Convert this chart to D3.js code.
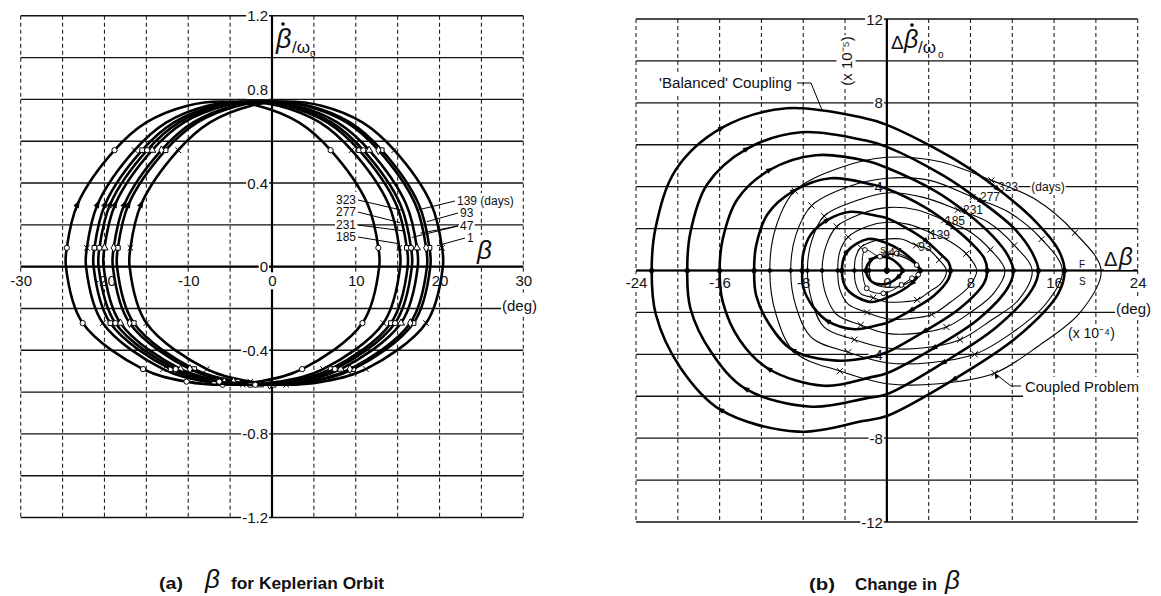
<!DOCTYPE html>
<html>
<head>
<meta charset="utf-8">
<script src="https://cdn.jsdelivr.net/npm/d3@7"></script>
<style>
  html, body { margin: 0; padding: 0; background: #fff; }
  svg { display: block; }
  text { font-family: "Liberation Sans", Arial, sans-serif; fill: #111; }
</style>
</head>
<body>
<svg id="fig" width="1161" height="596"></svg>
<script>
// ---------------- (a) β for Keplerian orbit ----------------
// β̇/ω₀ levels shared by every loop, and β read at each level for each day
const rateLevels = [0, 0.09, 0.30, 0.557, 0.69, 0.77, 0.79, 0.77, 0.69, 0.557, 0.30, 0.09, 0, -0.27, -0.49, -0.55, -0.565, -0.55, -0.49, -0.27];
const keplerDays = [1, 47, 93, 139, 185, 231, 277, 323];
const betaDay1   = [20.4, 20.3, 19.0, 14.6, 10.8, 5.9, 1.7, -2.5, -7.4, -11.2, -15.6, -16.9, -17.0, -15.0, -7.8, -2.6, 1.7, 6.0, 11.2, 18.4];
const betaDay47  = [18.9, 18.8, 17.5, 13.1, 9.3, 4.4, 0.2, -4.0, -8.9, -12.7, -17.1, -18.4, -18.5, -16.5, -9.3, -4.1, 0.2, 4.5, 9.7, 16.9];
const betaDay93  = [18.5, 18.4, 17.1, 12.7, 8.9, 4.0, -0.3, -4.5, -9.4, -13.2, -17.6, -18.9, -19.0, -17.0, -9.8, -4.6, -0.3, 4.1, 9.3, 16.5];
const betaDay139 = [17.4, 17.3, 16.0, 11.6, 7.8, 2.9, -1.4, -5.6, -10.5, -14.3, -18.7, -20.0, -20.1, -18.1, -10.9, -5.7, -1.4, 3.0, 8.2, 15.4];
const betaDay185 = [12.8, 12.7, 11.4, 7.0, 3.2, -1.7, -5.9, -10.1, -15.0, -18.8, -23.2, -24.5, -24.6, -22.6, -15.4, -10.2, -5.9, -1.6, 3.6, 10.8];
const betaDay231 = [15.3, 15.2, 13.9, 9.5, 5.7, 0.8, -3.5, -7.7, -12.6, -16.4, -20.8, -22.1, -22.2, -20.2, -13.0, -7.8, -3.5, 0.9, 6.1, 13.3];
const betaDay277 = [16.2, 16.1, 14.8, 10.4, 6.6, 1.7, -2.6, -6.8, -11.7, -15.5, -19.9, -21.2, -21.3, -19.3, -12.1, -6.9, -2.6, 1.8, 7.0, 14.2];
const betaDay323 = [16.7, 16.6, 15.3, 10.9, 7.1, 2.2, -2.0, -6.2, -11.1, -14.9, -19.3, -20.6, -20.7, -18.7, -11.5, -6.3, -2.0, 2.3, 7.5, 14.7];
const betaXTicks = [-30, -20, -10, 0, 10, 20, 30];
const rateYTicks = [1.2, 0.8, 0.4, 0, -0.4, -0.8, -1.2];
const rateYLabels = ["1.2", "0.8", "0.4", "0", "-0.4", "-0.8", "-1.2"];
// day callouts: label text and the (β, β̇/ω₀) point each leader runs to
const keplerCallLeft = ["323", "277", "231", "185"];
const keplerCallLeftTo = [[15.5, 0.27], [15.3, 0.21], [15.9, 0.17], [15.1, 0.11]];
const keplerCallRight = ["139 (days)", "93", "47", "47", "1"];
const keplerCallRightTo = [[17.3, 0.27], [18.5, 0.215], [17.7, 0.16], [16.7, 0.14], [19.7, 0.10]];

// ---------------- (b) change in β ----------------
const dBetaXTicks = [-24, -16, -8, 0, 8, 16, 24];
const dRateYTicks = [12, 8, 4, -4, -8, -12];
const couplingDays = [47, 93, 139, 185, 231, 277, 323];
// 'Balanced' coupling loops, [Δβ (x10^-4 deg), Δβ̇/ω₀ (x10^-5)]
const bal323 = [[-22.5,0],[-22.1,2.1],[-20.2,4.8],[-15.8,6.8],[-9.6,7.74],[-2.4,7.3],[0,6.95],[6.5,5.3],[10.6,3.9],[14.3,2.3],[16.4,1.0],[17.0,0],[16.4,-1.1],[12.4,-3.2],[6.4,-5.2],[0,-6.94],[-2.3,-7.18],[-8.5,-7.69],[-15.9,-6.65],[-19.8,-4.6],[-22.1,-2.1]];
const bal277 = [[-19.1,0],[-18.8,1.8],[-17.2,4.1],[-13.4,5.8],[-8.2,6.6],[-2.0,6.2],[0,5.9],[5.5,4.5],[9.0,3.3],[12.2,2.0],[13.9,0.85],[14.5,0],[13.9,-0.9],[10.5,-2.7],[5.4,-4.4],[0,-5.9],[-2.0,-6.1],[-7.2,-6.5],[-13.5,-5.65],[-16.8,-3.9],[-18.8,-1.8]];
const bal231 = [[-16.0,0],[-15.7,1.5],[-14.3,3.4],[-11.2,4.8],[-6.8,5.5],[-1.7,5.2],[0,4.9],[4.6,3.8],[7.5,2.8],[10.2,1.6],[11.6,0.7],[12.1,0],[11.6,-0.8],[8.8,-2.3],[4.5,-3.7],[0,-4.9],[-1.6,-5.1],[-6.0,-5.5],[-11.3,-4.7],[-14.1,-3.3],[-15.7,-1.5]];
const bal185 = [[-12.7,0],[-12.5,1.2],[-11.4,2.7],[-8.9,3.8],[-5.4,4.4],[-1.4,4.1],[0,3.9],[3.7,3.0],[6.0,2.2],[8.1,1.3],[9.3,0.6],[9.6,0],[9.3,-0.6],[7.0,-1.8],[3.6,-2.9],[0,-3.9],[-1.3,-4.1],[-4.8,-4.3],[-9.0,-3.8],[-11.2,-2.6],[-12.5,-1.2]];
const bal139 = [[-8.1,0],[-8.0,0.8],[-7.3,1.7],[-5.7,2.4],[-3.5,2.8],[-0.9,2.6],[0,2.5],[2.3,1.9],[3.8,1.4],[5.1,0.8],[5.9,0.4],[6.1,0],[5.9,-0.4],[4.5,-1.2],[2.3,-1.9],[0,-2.5],[-0.8,-2.6],[-3.1,-2.8],[-5.7,-2.4],[-7.1,-1.7],[-8.0,-0.8]];
const bal93  = [[-4.3,0],[-3.8,0.9],[-1.8,1.5],[0,1.3],[2.0,0.7],[3.2,0],[2.4,-0.6],[0,-1.3],[-1.6,-1.5],[-3.8,-0.9]];
const bal47  = [[-2.0,0],[-1.4,0.55],[0,0.63],[1.0,0.35],[1.5,0],[1.0,-0.35],[0,-0.63],[-1.4,-0.55]];
// coupled-problem loops
const cpl323 = [[-11.2,0],[-10.6,2.1],[-8.8,3.8],[-4.5,4.9],[0,5.4],[5,5.2],[10,4.3],[14.2,3.4],[18,1.8],[20.5,0],[18.5,-2.0],[14.5,-3.6],[10.3,-4.9],[5,-5.4],[0,-5.4],[-4.5,-4.8],[-8.8,-3.9],[-10.6,-2.1]];
const cpl277 = [[-9.2,0],[-8.7,1.7],[-7.2,3.1],[-3.7,4.0],[0,4.4],[4.1,4.3],[8.2,3.5],[11.6,2.8],[14.8,1.5],[16.8,0],[15.2,-1.6],[11.9,-3.0],[8.4,-4.0],[4.1,-4.4],[0,-4.4],[-3.7,-3.9],[-7.2,-3.2],[-8.7,-1.7]];
const cpl231 = [[-7.6,0],[-7.2,1.4],[-6.0,2.6],[-3.1,3.3],[0,3.7],[3.4,3.5],[6.8,2.9],[9.7,2.3],[12.2,1.2],[13.9,0],[12.6,-1.4],[9.9,-2.4],[7.0,-3.3],[3.4,-3.7],[0,-3.7],[-3.1,-3.3],[-6.0,-2.7],[-7.2,-1.4]];
const cpl185 = [[-6.2,0],[-5.8,1.2],[-4.8,2.1],[-2.5,2.7],[0,3.0],[2.8,2.9],[5.5,2.4],[7.8,1.9],[9.9,1.0],[11.3,0],[10.2,-1.1],[8.0,-2.0],[5.7,-2.7],[2.8,-3.0],[0,-3.0],[-2.5,-2.6],[-4.8,-2.1],[-5.8,-1.2]];
const cpl139 = [[-4.7,0],[-4.5,0.9],[-3.7,1.6],[-1.9,2.1],[0,2.3],[2.1,2.2],[4.2,1.8],[6.0,1.4],[7.6,0.8],[8.6,0],[7.8,-0.8],[6.1,-1.5],[4.3,-2.1],[2.1,-2.3],[0,-2.3],[-1.9,-2.0],[-3.7,-1.6],[-4.5,-0.9]];
const cpl93  = [[-3.1,0],[-3.0,0.6],[-2.5,1.1],[-1.3,1.4],[0,1.5],[1.4,1.5],[2.8,1.2],[4.0,1.0],[5.0,0.5],[5.7,0],[5.2,-0.6],[4.1,-1.0],[2.9,-1.4],[1.4,-1.5],[0,-1.5],[-1.3,-1.3],[-2.5,-1.1],[-3.0,-0.6]];
const cpl47  = [[-1.7,0],[-1.3,0.6],[0,0.8],[1.5,0.65],[2.7,0.3],[3.1,0],[2.8,-0.3],[1.5,-0.7],[0,-0.8],[-1.3,-0.6]];
// small tilted loop of open circles near the origin
const originLoop = [[-2.1,0.98],[-0.66,0.66],[0.94,0.82],[2.85,0.26],[3.0,-0.2],[2.4,-0.37],[1.4,-0.69],[-0.34,-1.09],[-1.93,-0.85]];
const couplingCallouts = ["323", "277", "231", "185", "139", "93", "47"];

// ---------------- drawing ----------------
const svg = d3.select("#fig");
const gridL = svg.append("g");
const bgL = svg.append("g");
const curveL = svg.append("g");
const textL = svg.append("g");

const xA = d3.scaleLinear().domain([-30, 30]).range([20.7, 523.3]);
const yA = d3.scaleLinear().domain([-1.2, 1.2]).range([517.5, 15.8]);
const xB = d3.scaleLinear().domain([-24, 24]).range([636, 1137.7]);
const yB = d3.scaleLinear().domain([-12, 12]).range([522, 19]);
const plainNum = d => String(d);

function drawGrid(x, y, xStep, yStep) {
  const [x0, x1] = x.domain(), [y0, y1] = y.domain();
  const vs = d3.range(x0, x1 + xStep / 2, xStep);
  const hs = d3.range(y0, y1 + yStep / 2, yStep);
  gridL.append("g").selectAll("line").data(vs).join("line")
    .attr("x1", d => x(d)).attr("x2", d => x(d)).attr("y1", y(y1)).attr("y2", y(y0))
    .attr("stroke", "#222").attr("stroke-width", 1.1).attr("stroke-dasharray", "4 3");
  gridL.append("g").selectAll("line").data(hs).join("line")
    .attr("x1", x(x0)).attr("x2", x(x1)).attr("y1", d => y(d)).attr("y2", d => y(d))
    .attr("stroke", "#111").attr("stroke-width", 1.4);
  gridL.append("line").attr("x1", x(0)).attr("x2", x(0)).attr("y1", y(y1)).attr("y2", y(y0))
    .attr("stroke", "#000").attr("stroke-width", 2.2);
  gridL.append("line").attr("x1", x(x0)).attr("x2", x(x1)).attr("y1", y(0)).attr("y2", y(0))
    .attr("stroke", "#000").attr("stroke-width", 2.2);
}

function whiteOut(node, pad) {
  const r = node.getBoundingClientRect();
  bgL.append("rect").attr("x", r.left - pad).attr("y", r.top - pad)
    .attr("width", r.width + 2 * pad).attr("height", r.height + 2 * pad).attr("fill", "#fff");
}

function txt(x, y, s, o = {}) {
  const t = textL.append("text").attr("x", x).attr("y", y).text(s)
    .attr("font-size", o.size || 14)
    .attr("text-anchor", o.anchor || "start")
    .attr("dominant-baseline", o.base || "central");
  if (o.weight) t.attr("font-weight", o.weight);
  if (o.italic) t.attr("font-style", "italic");
  if (o.len) t.attr("textLength", o.len).attr("lengthAdjust", "spacingAndGlyphs");
  if (o.rotate) t.attr("transform", `rotate(${o.rotate},${x},${y})`);
  if (o.bg !== undefined) whiteOut(t.node(), o.bg);
  return t;
}

const symTimes = d3.symbolTimes || d3.symbolX || d3.symbolCross;
const symbolTypes = { circle: d3.symbolCircle, square: d3.symbolSquare, diamond: d3.symbolDiamond, triangle: d3.symbolTriangle, times: symTimes };

function marker(g, px, py, type, size) {
  g.append("path").attr("d", d3.symbol().type(symbolTypes[type]).size(size)())
    .attr("transform", `translate(${px},${py})`)
    .attr("fill", type === "times" ? "none" : "#fff")
    .attr("stroke", "#000").attr("stroke-width", 1);
}

// filled arrowhead pointing along the loop between neighbours
function arrowHead(g, pts, i, reverse, size) {
  const n = pts.length;
  const a = pts[(i - 1 + n) % n], b = pts[(i + 1) % n];
  let ang = Math.atan2(b[1] - a[1], b[0] - a[0]) * 180 / Math.PI;
  if (reverse) ang += 180;
  const s = size;
  g.append("path").attr("d", `M${s},0L${-s * 0.7},${s * 0.6}L${-s * 0.7},${-s * 0.6}Z`)
    .attr("transform", `translate(${pts[i][0]},${pts[i][1]}) rotate(${ang})`)
    .attr("fill", "#000");
}

const loopLine = d3.line().curve(d3.curveCatmullRomClosed.alpha(0.5));

// ----- panel (a) -----
drawGrid(xA, yA, 5, 0.2);

const keplerBeta = [betaDay1, betaDay47, betaDay93, betaDay139, betaDay185, betaDay231, betaDay277, betaDay323];
const keplerMark = ["times", "square", "diamond", "triangle", "circle", "times", "square", "circle"];
const keplerMarkIdx = [1, 3, 9, 11, 13, 14, 15, 16, 18, 19];
keplerDays.forEach((day, k) => {
  const pts = keplerBeta[k].map((b, i) => [xA(b), yA(rateLevels[i])]);
  const g = curveL.append("g").attr("class", "day-" + day);
  g.append("path").attr("d", loopLine(pts)).attr("fill", "none")
    .attr("stroke", "#000").attr("stroke-width", 2.6);
  keplerMarkIdx.forEach(i => marker(g, pts[i][0], pts[i][1], keplerMark[k], 22));
  arrowHead(g, pts, 10, true, 5);
});

// tick labels
svg.append("g").attr("transform", `translate(0,${yA(0)})`)
  .call(d3.axisBottom(xA).tickValues(betaXTicks).tickSize(0).tickPadding(9).tickFormat(plainNum))
  .call(g => g.select(".domain").remove())
  .call(g => g.selectAll("text").attr("font-size", 15).attr("font-family", "Liberation Sans, Arial, sans-serif").attr("fill", "#111"))
  .call(g => g.selectAll("text").each(function () { whiteOut(this, 0); }));
rateYTicks.forEach((v, i) => {
  txt(xA(0) - 4, yA(v) + (v === 0.8 ? -10 : 0), rateYLabels[i], { anchor: "end", size: 15, bg: 1 });
});

// axis titles
txt(276, 48, "β", { size: 27, italic: true, base: "alphabetic" });
textL.append("circle").attr("cx", 283).attr("cy", 24).attr("r", 1.8).attr("fill", "#000");
txt(292, 53, "/ω", { size: 17, base: "alphabetic" });
txt(310, 57, "o", { size: 10, base: "alphabetic" });
txt(477, 259, "β", { size: 26, italic: true, base: "alphabetic", bg: 0 });
txt(502, 305, "(deg)", { size: 15, bg: 1 });

// day callouts
const leftY = [200, 212, 225, 237];
keplerCallLeft.forEach((s, i) => {
  txt(356, leftY[i], s, { size: 12, anchor: "end", bg: 1 });
  const [b, r] = keplerCallLeftTo[i];
  textL.append("line").attr("x1", 358).attr("y1", leftY[i]).attr("x2", xA(b)).attr("y2", yA(r))
    .attr("stroke", "#000").attr("stroke-width", 1);
});
const rightY = [201, 213, 226, 226, 238];
const rightX = [457, 460, 460, 460, 467];
keplerCallRight.forEach((s, i) => {
  if (i !== 3) txt(rightX[i], rightY[i], s, { size: 12, bg: 1 });
  const [b, r] = keplerCallRightTo[i];
  textL.append("line").attr("x1", rightX[i] - 2).attr("y1", rightY[i]).attr("x2", xA(b)).attr("y2", yA(r))
    .attr("stroke", "#000").attr("stroke-width", 1);
});

// caption (a)
txt(159, 589, "(a)", { size: 16, weight: "bold", base: "alphabetic", len: 24 });
txt(205, 588, "β", { size: 26, italic: true, base: "alphabetic" });
txt(231, 589, "for Keplerian Orbit", { size: 16, weight: "bold", base: "alphabetic", len: 153 });

// ----- panel (b) -----
drawGrid(xB, yB, 4, 2);

const balLoops = [bal47, bal93, bal139, bal185, bal231, bal277, bal323];
const cplLoops = [cpl47, cpl93, cpl139, cpl185, cpl231, cpl277, cpl323];
couplingDays.forEach((day, k) => {
  const g = curveL.append("g").attr("class", "coupling-" + day);
  const bp = balLoops[k].map(d => [xB(d[0]), yB(d[1])]);
  const cp = cplLoops[k].map(d => [xB(d[0]), yB(d[1])]);
  g.append("path").attr("d", loopLine(cp)).attr("fill", "none").attr("stroke", "#000").attr("stroke-width", 1.1);
  g.append("path").attr("d", loopLine(bp)).attr("fill", "none").attr("stroke", "#000").attr("stroke-width", 2.6);
  const n = bp.length;
  const arrows = n > 12 ? [3, 8, 14, 18] : [1, Math.floor(n / 2) + 1];
  arrows.forEach(i => arrowHead(g, bp, i, false, 4.5));
  [0, balLoops[k].findIndex((d, i) => i > 0 && d[1] === 0)].forEach(i => {
    g.append("circle").attr("cx", bp[i][0]).attr("cy", bp[i][1]).attr("r", 2.6).attr("fill", "#000");
  });
  const xs = cp.length > 12 ? [2, 6, 8, 12, 15] : [2, 7];
  xs.forEach(i => marker(g, cp[i][0], cp[i][1], "times", 26));
  g.append("circle").attr("cx", cp[0][0]).attr("cy", cp[0][1]).attr("r", 2.2).attr("fill", "#000");
});
{
  const op = originLoop.map(d => [xB(d[0]), yB(d[1])]);
  const g = curveL.append("g").attr("class", "origin-loop");
  g.append("path").attr("d", loopLine(op)).attr("fill", "none").attr("stroke", "#000").attr("stroke-width", 1);
  op.forEach(p => marker(g, p[0], p[1], "circle", 18));
  g.append("circle").attr("cx", xB(0)).attr("cy", yB(0)).attr("r", 3).attr("fill", "#000");
}

svg.append("g").attr("transform", `translate(0,${yB(0)})`)
  .call(d3.axisBottom(xB).tickValues(dBetaXTicks).tickSize(0).tickPadding(7).tickFormat(plainNum))
  .call(g => g.select(".domain").remove())
  .call(g => g.selectAll("text").attr("font-size", 15).attr("font-family", "Liberation Sans, Arial, sans-serif").attr("fill", "#111"))
  .call(g => g.selectAll("text").each(function () { whiteOut(this, 0); }));
dRateYTicks.forEach(v => txt(xB(0) - 4, yB(v), String(v), { anchor: "end", size: 15, bg: 1 }));

// axis titles
txt(891, 49, "Δ", { size: 19, base: "alphabetic" });
txt(904, 48, "β", { size: 25, italic: true, base: "alphabetic" });
textL.append("circle").attr("cx", 912).attr("cy", 25).attr("r", 1.8).attr("fill", "#000");
txt(918, 53, "/ω", { size: 17, base: "alphabetic" });
txt(938, 58, "o", { size: 10, base: "alphabetic" });
txt(846, 61, "(x 10⁻⁵)", { size: 15, anchor: "middle", rotate: -90, bg: 1 });
txt(1104, 266, "Δ", { size: 20, base: "alphabetic", bg: 0 });
txt(1119, 265, "β", { size: 24, italic: true, base: "alphabetic", bg: 0 });
txt(1116, 308, "(deg)", { size: 15, bg: 1 });
txt(1068, 333, "(x 10⁻⁴)", { size: 14, bg: 1 });
txt(1079, 264, "F", { size: 10 });
txt(1079, 281, "S", { size: 10 });

// labels for the two loop families
txt(659, 83, "'Balanced' Coupling", { size: 14, len: 133, bg: 2 });
textL.append("path").attr("d", `M797,83L811,83L${xB(-6.2)},${yB(7.65)}`)
  .attr("fill", "none").attr("stroke", "#000").attr("stroke-width", 1);
txt(1025, 387, "Coupled Problem", { size: 14, len: 114, bg: 2 });
textL.append("path").attr("d", `M1021,386L1011,386L${xB(10.3)},${yB(-4.9)}`)
  .attr("fill", "none").attr("stroke", "#000").attr("stroke-width", 1);
textL.append("path").attr("d", `M${xB(10.3)},${yB(-4.9)}l1,6l4,-3z`).attr("fill", "#000");

// day callouts along the upper-right flank
const callX = [1008, 990, 973, 955, 940, 925, 895];
const callY = [187, 197, 210, 221, 235, 247, 253];
couplingCallouts.forEach((s, i) => txt(callX[i], callY[i], s, { size: 12, anchor: "middle", bg: 0 }));
txt(1048, 187, "(days)", { size: 12, anchor: "middle", bg: 1 });
txt(883, 250, "S", { size: 9, anchor: "middle" });

// caption (b)
txt(809, 590, "(b)", { size: 16, weight: "bold", base: "alphabetic", len: 26 });
txt(855, 590, "Change in", { size: 16, weight: "bold", base: "alphabetic", len: 82 });
txt(945, 589, "β", { size: 26, italic: true, base: "alphabetic" });
</script>
</body>
</html>
